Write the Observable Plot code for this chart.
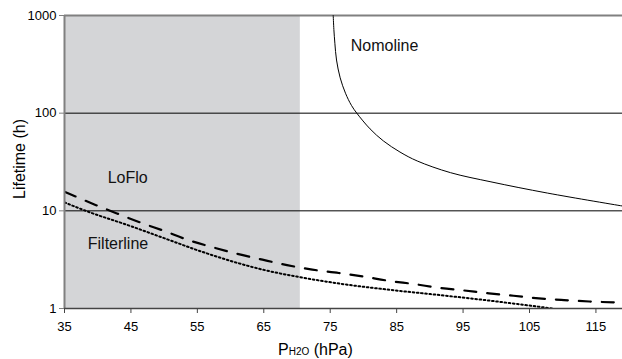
<!DOCTYPE html>
<html><head><meta charset="utf-8">
<script src="https://cdn.jsdelivr.net/npm/d3@7"></script>
<script src="https://cdn.jsdelivr.net/npm/@observablehq/plot@0.6"></script>
<style>body{margin:0;background:#fff} svg{display:block}</style>
</head><body><div id="chart"></div>
<script>
// Tick values
const xTicks = [35, 45, 55, 65, 75, 85, 95, 105, 115];
const yTicks = [1, 10, 100, 1000];
const gridValues = [10, 100];
const xDomain = [35, 119];
const yDomain = [1, 1000];
// Shaded region (x range)
const shadeRange = [35, 70.5];

// Nomoline (solid)
const nomoX = [75.45, 75.55, 75.7, 75.95, 76.5, 77.3, 78.2, 79.0, 81.0, 83.0, 85.5, 88.1, 93.1, 99.2, 107.7, 119];
const nomoY = [1000, 720, 520, 350, 230, 160, 120, 100, 69, 52, 40, 32.4, 24.6, 19.8, 15.2, 11.2];

// LoFlo (dashed)
const loX = [35, 39.4, 42.9, 46.4, 50.2, 53.7, 57.5, 61.0, 64.8, 68.5, 72.3, 76.3, 80.1, 83.8, 87.6, 91.4, 95.1, 98.9, 102.6, 106.4, 110.2, 114.0, 119];
const loY = [15.7, 11.7, 9.4, 7.6, 6.15, 5.0, 4.2, 3.63, 3.16, 2.78, 2.5, 2.31, 2.12, 1.92, 1.78, 1.63, 1.53, 1.43, 1.35, 1.27, 1.22, 1.18, 1.15];

// Filterline (dotted)
const fiX = [35, 38.2, 44.9, 50.5, 55.5, 60.5, 65.5, 70.5, 76.6, 84.1, 91.6, 99.2, 104.6, 108.5];
const fiY = [12.2, 10, 7.0, 5.1, 3.85, 3.0, 2.44, 2.09, 1.79, 1.55, 1.37, 1.2, 1.08, 1.0];

// Series labels
const labelText = ["Nomoline", "LoFlo", "Filterline"];
const labelX = [78.1, 41.5, 38.5];
const labelY = [494, 21.7, 4.6];

const toRows = (xs, ys) => xs.map((x, i) => ({x, y: ys[i]}));
const nomo = toRows(nomoX, nomoY);
const lo = toRows(loX, loY);
const fi = toRows(fiX, fiY);
const labels = labelText.map((t, i) => ({text: t, x: labelX[i], y: labelY[i]}));
const shadeRows = [{x1: shadeRange[0], x2: shadeRange[1], y1: yDomain[0], y2: yDomain[1]}];

const font = "Arial, 'Liberation Sans', sans-serif";

const chart = Plot.plot({
  width: 622, height: 359,
  marginLeft: 64, marginRight: 0, marginTop: 15, marginBottom: 51,
  style: {fontFamily: font, fontSize: "13px", background: "#fff", color: "#000"},
  x: {domain: xDomain, label: null},
  y: {type: "log", domain: yDomain, label: null},
  marks: [
    Plot.rect(shadeRows, {x1: "x1", x2: "x2", y1: "y1", y2: "y2", fill: "#d4d5d7"}),
    Plot.ruleY(gridValues, {stroke: "#000", strokeWidth: 1}),
    Plot.ruleY([yDomain[1]], {stroke: "#808080", strokeWidth: 2}),
    Plot.line(nomo, {x: "x", y: "y", stroke: "#000", strokeWidth: 1, curve: "catmull-rom", clip: true}),
    Plot.line(lo, {x: "x", y: "y", stroke: "#000", strokeWidth: 2.2, strokeDasharray: "12,11", curve: "monotone-x", clip: true}),
    Plot.line(fi, {x: "x", y: "y", stroke: "#000", strokeWidth: 2, strokeDasharray: "1.6,2.6", curve: "monotone-x", clip: true}),
    Plot.ruleX([xDomain[0]], {stroke: "#808080", strokeWidth: 2}),
    Plot.ruleY([yDomain[0]], {stroke: "#444", strokeWidth: 1.5}),
    Plot.axisX({ticks: xTicks, tickSize: 5, tickPadding: 8, stroke: "#444", fontSize: 13, label: null}),
    Plot.axisY({ticks: yTicks, tickSize: 5, tickPadding: 3, stroke: "#808080", fontSize: 13, tickFormat: d => String(d), label: null}),
    Plot.text(labels, {x: "x", y: "y", text: "text", textAnchor: "start", lineAnchor: "middle", fontSize: 16, fill: "#111"})
  ]
});

const svg = d3.select(chart);
// y-axis title
svg.append("text")
  .attr("transform", "translate(25,159) rotate(-90)")
  .attr("text-anchor", "middle")
  .attr("font-family", font)
  .attr("font-size", 16)
  .attr("fill", "#000")
  .text("Lifetime (h)");
// x-axis title with subscript
const xt = svg.append("text")
  .attr("x", 278).attr("y", 355)
  .attr("text-anchor", "start")
  .attr("font-family", font)
  .attr("font-size", 16)
  .attr("fill", "#000");
xt.append("tspan").text("P");
xt.append("tspan").attr("font-size", 10).text("H2O");
xt.append("tspan").text(" (hPa)");

document.getElementById("chart").appendChild(chart);
</script>
</body></html>
